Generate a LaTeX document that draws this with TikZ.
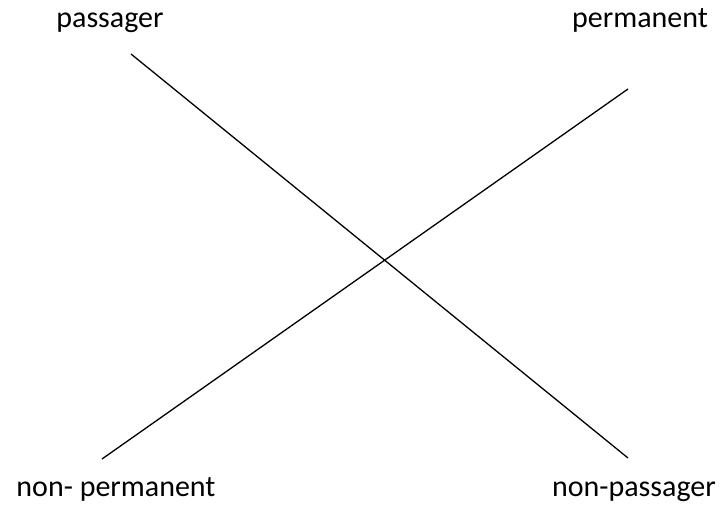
\documentclass[tikz,border=0pt]{standalone}
\usepackage{fontspec}
\setmainfont{Carlito}
\usetikzlibrary{positioning}
\tikzset{
  lbl/.style={anchor=base,inner sep=0pt,font=\fontsize{30}{36}\selectfont},
  ln/.style={line width=1.3pt,draw=black},
}
\begin{document}
\begin{tikzpicture}[x=1pt,y=1pt]
\useasboundingbox (0,0) rectangle (728,504);
\node[lbl] (pa) at (110,476) {passager};
\node[lbl] (pe) at (640,476) {permanent};
\node[lbl] (np) at (116,8) {non- permanent};
\node[lbl] (nq) at (634,8) {non-passager};
\coordinate (a) at (131,450);
\coordinate (b) at (628,46);
\coordinate (c) at (628,415);
\coordinate (d) at (102,45);
\draw[ln] (a) -- (b);
\draw[ln] (c) -- (d);
\end{tikzpicture}
\end{document}
